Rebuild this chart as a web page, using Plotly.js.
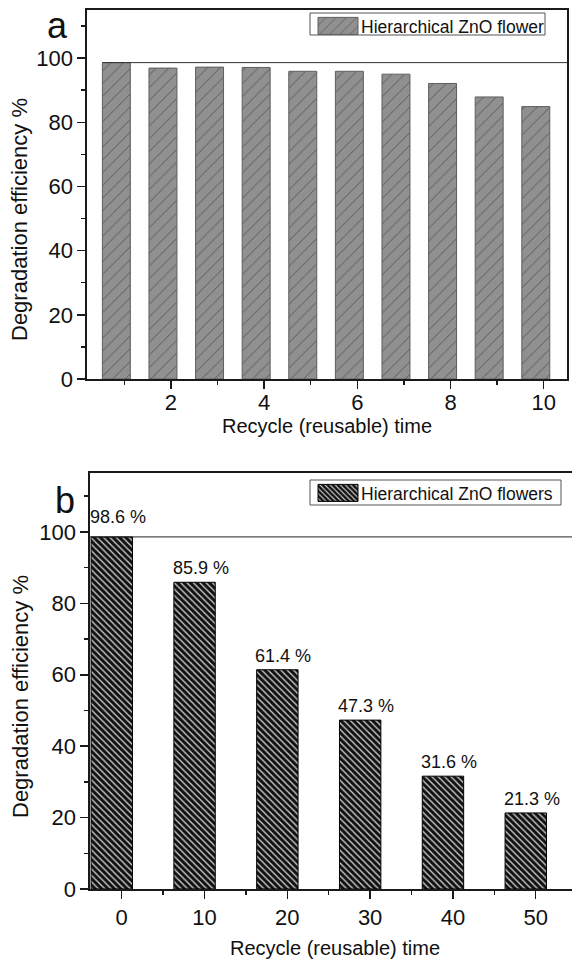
<!DOCTYPE html>
<html>
<head>
<meta charset="utf-8">
<script src="https://cdn.plot.ly/plotly-3.0.1.min.js"></script>
<style>
  html, body { margin: 0; padding: 0; overflow: hidden; background: #fff; }
  #chart { width: 580px; height: 959px; }
</style>
</head>
<body>
<div id="chart"></div>
<script>
// Panel a: degradation efficiency over ten reuse cycles
const cyclesA = [1, 2, 3, 4, 5, 6, 7, 8, 9, 10];
const efficiencyA = [98.6, 96.9, 97.2, 97.1, 95.9, 95.9, 95.0, 92.1, 87.9, 84.9];
const seriesA = 'Hierarchical ZnO flower';
const xTicksA = [2, 4, 6, 8, 10];

// Panel b: degradation efficiency over fifty reuse cycles
const cyclesB = [0, 10, 20, 30, 40, 50];
const efficiencyB = [98.6, 85.9, 61.4, 47.3, 31.6, 21.3];
const seriesB = 'Hierarchical ZnO flowers';
const xTicksB = [0, 10, 20, 30, 40, 50];

const yTicks = [0, 20, 40, 60, 80, 100];
const xTitle = 'Recycle (reusable) time';
const yTitle = 'Degradation efficiency %';

const W = 580, H = 959;
const px = v => v / W;          // horizontal pixel -> paper
const py = v => 1 - v / H;      // vertical pixel (from top) -> paper
const FONT = 'Arial, "Liberation Sans", sans-serif';
const INK = '#1a1a1a';

const rangeA = [0.2, 10.5];
const rangeB = [-3.83, 55.35];
const offsetA = -0.47, offsetB = -3.7;

const axisBase = {
  showline: true, linecolor: INK, linewidth: 1.6, mirror: true,
  ticks: 'outside', ticklen: 8, tickwidth: 1.5, tickcolor: INK,
  showgrid: false, zeroline: false, fixedrange: true,
  tickfont: { family: FONT, size: 22, color: '#111' }
};
const minorBase = { ticks: 'outside', ticklen: 4, tickwidth: 1.5, tickcolor: INK, showgrid: false };

const traces = [
  {
    type: 'bar', name: seriesA, legend: 'legend',
    x: cyclesA, y: efficiencyA, xaxis: 'x', yaxis: 'y',
    width: 0.6, offset: offsetA,
    marker: {
      color: '#8e8e8e',
      line: { color: '#5e5e5e', width: 1 },
      pattern: { shape: '/', bgcolor: '#909090', fgcolor: '#454545', size: 9, solidity: 0.08 }
    },
    hoverinfo: 'skip'
  },
  {
    type: 'bar', name: seriesB, legend: 'legend2',
    x: cyclesB, y: efficiencyB, xaxis: 'x2', yaxis: 'y2',
    width: 5.0, offset: offsetB,
    marker: {
      color: '#111',
      line: { color: '#000', width: 1 },
      pattern: { shape: '\\', bgcolor: '#111111', fgcolor: '#cfcfcf', size: 4.5, solidity: 0.3 }
    },
    hoverinfo: 'skip'
  }
];

const legendBase = {
  xanchor: 'left', yanchor: 'top', bgcolor: 'rgba(0,0,0,0)', borderwidth: 0,
  font: { family: FONT, size: 17.5, color: '#111' }, itemwidth: 36,
  itemclick: false, itemdoubleclick: false
};

// value labels above the bars of panel b; the first sits clear of the reference line
const valueLabels = efficiencyB.map((v, i) => ({
  text: v.toFixed(1) + ' %', xref: 'x2', yref: 'y2',
  x: cyclesB[i] + offsetB + 2.5, y: v, xanchor: 'center', yanchor: 'bottom',
  xshift: 6, yshift: i === 0 ? 8 : 2,
  showarrow: false, font: { family: FONT, size: 18, color: '#111' }
}));

const layout = {
  width: W, height: H,
  margin: { l: 0, r: 0, t: 0, b: 0 },
  paper_bgcolor: '#fff', plot_bgcolor: '#fff',
  font: { family: FONT, color: '#111' },
  bargap: 0,
  xaxis: Object.assign({}, axisBase, {
    domain: [px(87), px(567)], anchor: 'y', range: rangeA,
    tickmode: 'array', tickvals: xTicksA, ticklabelstandoff: -5,
    minor: Object.assign({ dtick: 1, tick0: 0 }, minorBase),
    title: { text: xTitle, font: { family: FONT, size: 20, color: '#111' }, standoff: 0 }
  }),
  yaxis: Object.assign({}, axisBase, {
    domain: [py(379), py(10)], anchor: 'x', range: [0, 115],
    tickmode: 'array', tickvals: yTicks,
    minor: Object.assign({ dtick: 10, tick0: 0 }, minorBase)
  }),
  xaxis2: Object.assign({}, axisBase, {
    domain: [px(90), 1], anchor: 'y2', range: rangeB,
    tickmode: 'array', tickvals: xTicksB,
    minor: Object.assign({ dtick: 5, tick0: 0 }, minorBase),
    title: { text: xTitle, font: { family: FONT, size: 20, color: '#111' }, standoff: 20 }
  }),
  yaxis2: Object.assign({}, axisBase, {
    domain: [py(889), py(473)], anchor: 'x2', range: [0, 116.5],
    tickmode: 'array', tickvals: yTicks,
    minor: Object.assign({ dtick: 10, tick0: 0 }, minorBase)
  }),
  showlegend: true,
  legend: Object.assign({}, legendBase, { x: px(315), y: py(8) }),
  legend2: Object.assign({}, legendBase, { x: px(315), y: py(475) }),
  shapes: [
    // reference level at the first cycle's efficiency
    { type: 'line', xref: 'x', yref: 'y', x0: cyclesA[0] + offsetA, x1: rangeA[1],
      y0: efficiencyA[0], y1: efficiencyA[0], line: { color: '#333', width: 1 } },
    { type: 'line', xref: 'x2', yref: 'y2', x0: rangeB[0], x1: rangeB[1],
      y0: efficiencyB[0], y1: efficiencyB[0], line: { color: '#222', width: 1 } },
    // legend frames
    { type: 'rect', xref: 'paper', yref: 'paper', x0: px(310), x1: px(545), y0: py(35), y1: py(13),
      line: { color: '#555', width: 1 }, fillcolor: 'rgba(0,0,0,0)', layer: 'below' },
    { type: 'rect', xref: 'paper', yref: 'paper', x0: px(310), x1: px(561), y0: py(505), y1: py(480),
      line: { color: '#555', width: 1 }, fillcolor: 'rgba(0,0,0,0)', layer: 'below' }
  ],
  annotations: [
    { text: 'a', xref: 'paper', yref: 'paper', x: px(45), y: py(48), xanchor: 'left', yanchor: 'bottom',
      showarrow: false, font: { family: FONT, size: 36, color: '#111' } },
    { text: 'b', xref: 'paper', yref: 'paper', x: px(53), y: py(523), xanchor: 'left', yanchor: 'bottom',
      showarrow: false, font: { family: FONT, size: 36, color: '#111' } },
    { text: yTitle, xref: 'paper', yref: 'paper', x: px(20), y: py(220), xanchor: 'center', yanchor: 'middle',
      textangle: -90, showarrow: false, font: { family: FONT, size: 22, color: '#111' } },
    { text: yTitle, xref: 'paper', yref: 'paper', x: px(20), y: py(697), xanchor: 'center', yanchor: 'middle',
      textangle: -90, showarrow: false, font: { family: FONT, size: 22, color: '#111' } }
  ].concat(valueLabels)
};

Plotly.newPlot('chart', traces, layout, { staticPlot: true, displayModeBar: false }).then(gd => {
  // widen the legend keys into the rectangular swatches used in the figure
  gd.querySelectorAll('.legendpoints path').forEach(p => p.setAttribute('d', 'M20,8.5H-20V-8.5H20Z'));
});
</script>
</body>
</html>
